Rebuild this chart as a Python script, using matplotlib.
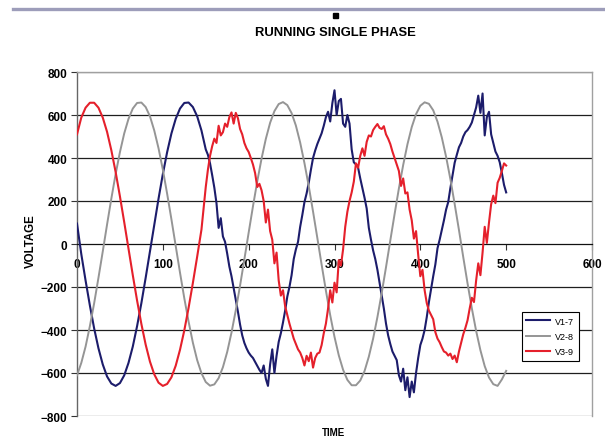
import numpy as np
import matplotlib
matplotlib.use("Agg")
import matplotlib.pyplot as plt
from matplotlib.lines import Line2D
from matplotlib.patches import Rectangle

plt.rcParams["font.family"] = ["Liberation Sans", "DejaVu Sans"]

# samples every 5 time units while the supply is balanced (t = 0 .. 145)
v1_start = [95, -47, -170, -286, -393, -485, -560, -616, -649, -660,
            -647, -611, -553, -477, -382, -275, -157, -35, 90, 211,
            325, 427, 514, 582, 630, 656, 658, 637, 594, 528]
v3_start = [510, 588, 634, 657, 657, 634, 588, 522, 436, 335,
            222, 102, -22, -145, -263, -372, -468, -547, -606, -645,
            -660, -651, -620, -566, -492, -402, -297, -181, -59, 67]

# samples every 2.5 time units once single phasing starts (t = 150 .. 500)
v1_late = [440, 415, 375, 320, 262, 190, 75, 120, 35, 10,
           -45, -105, -150, -205, -258, -315, -375, -425, -460, -485,
           -505, -519, -530, -548, -565, -585, -600, -565, -627, -660,
           -560, -490, -600, -520, -455, -415, -365, -310, -245, -200,
           -145, -70, -25, 10, 80, 135, 195, 235, 285, 345,
           400, 435, 465, 490, 515, 550, 590, 615, 570, 655,
           715, 600, 665, 675, 560, 545, 600, 560, 440, 380,
           370, 355, 305, 260, 215, 165, 75, 20, -30, -70,
           -120, -180, -240, -300, -370, -425, -465, -500, -520, -540,
           -610, -640, -580, -680, -620, -712, -640, -690, -600, -530,
           -470, -440, -400, -340, -270, -210, -150, -95, -20, 20,
           65, 110, 160, 195, 260, 320, 378, 415, 450, 470,
           500, 520, 530, 545, 565, 600, 635, 690, 610, 700,
           505, 590, 615, 510, 470, 430, 410, 380, 330, 275,
           240]
v3_late = [265, 345, 410, 455, 490, 470, 550, 505, 520, 560,
           545, 590, 612, 560, 610, 585, 535, 510, 470, 445,
           428, 400, 370, 330, 265, 280, 250, 200, 100, 160,
           60, 20, -90, -40, -170, -240, -215, -290, -330, -370,
           -405, -440, -465, -490, -505, -530, -565, -520, -545, -505,
           -575, -530, -510, -505, -470, -415, -370, -300, -215, -272,
           -180, -225, -75, -100, -25, 80, 150, 200, 240, 290,
           375, 355, 410, 445, 410, 475, 505, 500, 530, 545,
           558, 540, 535, 548, 510, 490, 465, 430, 400, 370,
           340, 270, 305, 235, 240, 160, 110, 25, 60, -50,
           -150, -120, -215, -275, -310, -330, -350, -410, -440, -457,
           -480, -500, -505, -519, -510, -535, -519, -550, -500, -460,
           -420, -390, -355, -300, -250, -270, -170, -90, -145, -40,
           80, 5, 100, 185, 225, 190, 285, 308, 340, 375,
           365]

# V2-8 stays clean, sampled every 5 units over t = 0 .. 500
v2 = [-611, -553, -477, -382, -275, -157, -35, 90, 211, 325,
      427, 514, 582, 630, 656, 658, 637, 594, 528, 445,
      346, 234, 115, -9, -133, -252, -361, -459, -540, -601,
      -642, -659, -653, -624, -573, -502, -412, -308, -193, -71,
      53, 175, 291, 397, 489, 564, 618, 651, 660, 646,
      609, 551, 472, 376, 269, 151, 28, -96, -217, -331,
      -432, -518, -585, -632, -657, -657, -635, -591, -524, -440,
      -340, -228, -108, 16, 139, 258, 367, 464, 544, 604,
      643, 659, 652, 622, 569, 496, 406, 302, 186, 65,
      -61, -183, -299, -404, -494, -568, -621, -652, -660, -630,
      -590]

series_names = ["V1-7", "V2-8", "V3-9"]
x_ticks = [0, 100, 200, 300, 400, 500, 600]
y_ticks = [-800, -600, -400, -200, 0, 200, 400, 600, 800]

t_start = np.arange(len(v1_start)) * 5.0
t1 = np.concatenate([t_start, 150 + np.arange(len(v1_late)) * 2.5])
t3 = np.concatenate([t_start, 150 + np.arange(len(v3_late)) * 2.5])
t2 = np.arange(len(v2)) * 5.0

fig = plt.figure(figsize=(6.05, 4.39), dpi=100)
W, H = 605, 439
ax = fig.add_axes([77 / W, 1 - 417 / H, (592 - 77) / W, (417 - 73) / H])

ax.set_xlim(0, 600)
ax.set_ylim(-800, 800)

# horizontal grid, dark like the old spreadsheet look
for y in y_ticks:
    if y in (-800, 800):
        ax.axhline(y, color="#a0a0a0", lw=1.0, zorder=1)
    elif y != 0:
        ax.axhline(y, color="#1e1e1e", lw=0.9, zorder=1)

ax.plot(t1, np.concatenate([v1_start, v1_late]), color="#1c1c6b", lw=1.5,
        label=series_names[0], zorder=3)
ax.plot(t2, v2, color="#959595", lw=1.4, label=series_names[1], zorder=3)
ax.plot(t3, np.concatenate([v3_start, v3_late]), color="#e5202b", lw=1.5,
        label=series_names[2], zorder=4)

# x axis crosses at zero
ax.spines["bottom"].set_position(("data", 0))
ax.spines["bottom"].set_color("#111111")
ax.spines["bottom"].set_linewidth(0.9)
ax.spines["left"].set_color("#666666")
ax.spines["left"].set_linewidth(1.0)
for s in ("top", "right"):
    ax.spines[s].set_color("#a0a0a0")
    ax.spines[s].set_linewidth(1.0)

ax.set_xticks(x_ticks)
ax.set_yticks(y_ticks)
ax.tick_params(axis="x", direction="out", length=4, width=0.8, pad=6,
               labelsize=8.5, color="#333333")
ax.tick_params(axis="y", direction="out", length=4, width=0.8, pad=3,
               labelsize=8.5, color="#333333")
for lab in ax.get_xticklabels() + ax.get_yticklabels():
    lab.set_fontweight("bold")

leg = ax.legend(loc="upper left", bbox_to_anchor=(0.864, 0.302),
                fontsize=6.5, frameon=True, fancybox=False, framealpha=1,
                edgecolor="black", handlelength=2.6, handletextpad=0.6,
                borderpad=0.5, labelspacing=0.7, borderaxespad=0)
leg.get_frame().set_linewidth(0.8)

fig.text(335 / W, 1 - 33 / H, "RUNNING SINGLE PHASE", ha="center",
         va="center", fontsize=9.4, fontweight="bold")
fig.text(31 / W, 1 - 241 / H, "VOLTAGE", ha="center", va="center",
         rotation=90, fontsize=8.3, fontweight="bold")
fig.text(333 / W, 1 - 438 / H, "TIME", ha="center", va="bottom",
         fontsize=7, fontweight="bold")

# slide header rule and bullet above the title
fig.add_artist(Line2D([13 / W, 1], [1 - 10 / H, 1 - 10 / H],
                      color="#9d9dba", lw=2.4))
fig.add_artist(Rectangle((333 / W, 1 - 19 / H), 5 / W, 5 / H,
                         color="black", transform=fig.transFigure))

fig.savefig("out.png", dpi=100)
